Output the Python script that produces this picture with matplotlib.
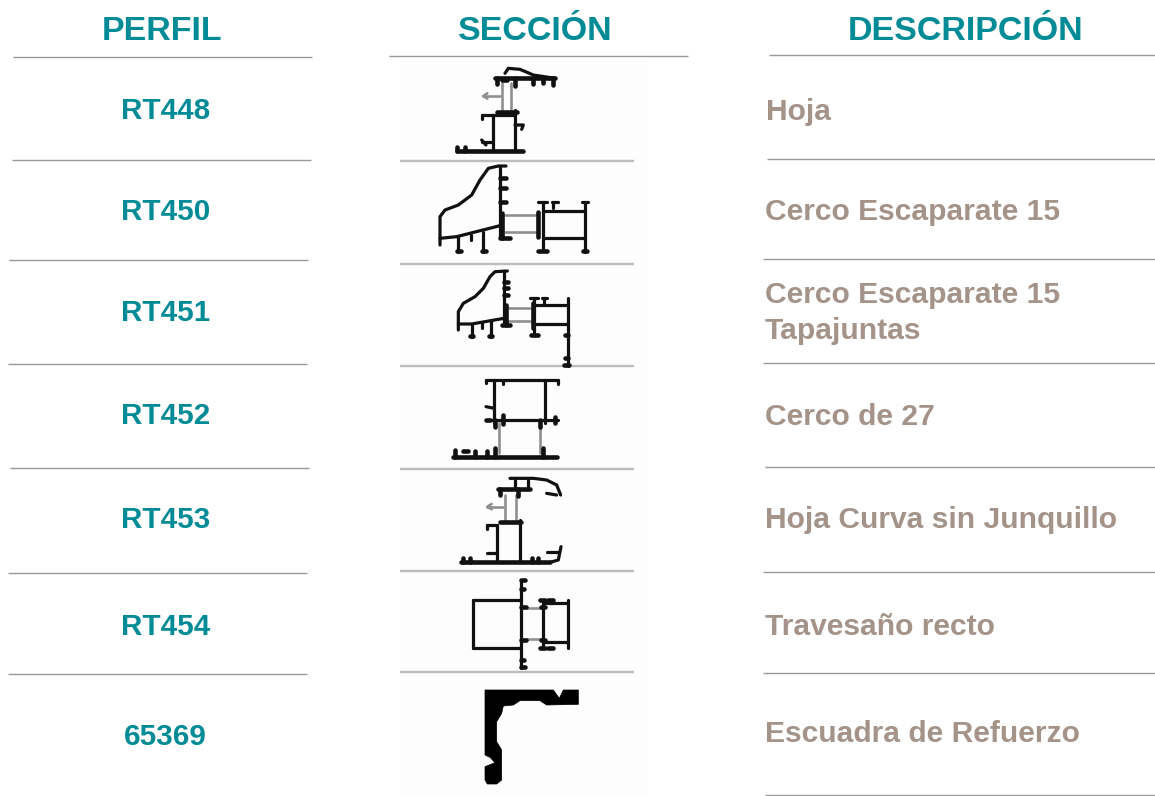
import matplotlib
matplotlib.use("Agg")
import matplotlib.pyplot as plt
from matplotlib.patches import Polygon, Rectangle

plt.rcParams['font.family'] = ['Liberation Sans', 'DejaVu Sans']

W, H = 1155, 796
TEAL = '#008B96'
TAUPE = '#A39389'
RULE = '#9A9A9A'
SOFT = '#BDBDBD'
INK = '#111111'
GLASS = '#8E8E8E'

headers = ['PERFIL', 'SECCIÓN', 'DESCRIPCIÓN']
header_x = [162, 535, 966]
codes = ['RT448', 'RT450', 'RT451', 'RT452', 'RT453', 'RT454', '65369']
code_y = [109, 210, 311, 414, 518, 625, 735]
descriptions = ['Hoja', 'Cerco Escaparate 15', 'Cerco Escaparate 15\nTapajuntas', 'Cerco de 27',
                'Hoja Curva sin Junquillo', 'Travesaño recto', 'Escuadra de Refuerzo']
desc_x = [766, 765, 765, 765, 765, 765, 765]
desc_y = [110, 210, 311, 415, 518, 625, 732]

left_rules = [(13, 312, 57), (12, 311, 160), (9, 308, 260), (8, 307, 364), (10, 309, 468), (8, 307, 573), (8, 307, 674)]
right_rules = [(769, 1155, 55), (767, 1155, 159), (763, 1155, 259), (763, 1155, 363), (765, 1155, 467),
               (763, 1155, 572), (763, 1155, 673), (765, 1155, 795)]
mid_rule = (389, 688, 56)
section_rules = [161, 264, 366, 469, 571, 672]

# Each drawing: origin of the crop, then thin lines, thick lines, grey lines (crop units are 1/3 px)
s1_thin = [[(315, 40), (325, 25), (360, 28), (400, 45), (465, 55)], [(280, 165), (345, 165)], [(245, 165), (280, 165)],
           [(245, 165), (245, 178)], [(278, 165), (278, 270)], [(345, 150), (345, 270)], [(345, 195), (370, 195), (365, 208)],
           [(245, 245), (275, 245)], [(245, 240), (258, 255)]]
s1_thick = [[(285, 55), (465, 55)], [(290, 55), (290, 72)], [(345, 55), (345, 78)], [(400, 55), (400, 72)], [(430, 55), (430, 70)],
            [(460, 55), (460, 74)], [(290, 155), (350, 155)], [(170, 272), (370, 272)], [(172, 262), (172, 272)], [(195, 262), (195, 272)],
            [(305, 60), (320, 60)]]
s1_grey = [[(305, 70), (305, 150)], [(332, 70), (332, 150)], [(250, 108), (300, 108)], [(262, 100), (250, 108), (262, 116)]]

s2_thin = [[(120, 555), (120, 470), (135, 450), (175, 435), (215, 405), (240, 360), (265, 325), (295, 318), (318, 318)],
           [(120, 535), (170, 530), (300, 497)], [(300, 318), (300, 535)], [(175, 530), (175, 575)], [(213, 525), (213, 540)],
           [(250, 515), (250, 575)], [(428, 425), (428, 570)], [(428, 452), (555, 452)], [(428, 535), (555, 535)], [(555, 425), (555, 575)],
           [(415, 425), (440, 425)], [(460, 425), (460, 445)], [(455, 425), (475, 425)], [(545, 425), (565, 425)]]
s2_thick = [[(300, 355), (318, 355)], [(300, 385), (318, 385)], [(300, 425), (318, 425)], [(307, 460), (307, 535)], [(300, 535), (330, 535)],
            [(415, 455), (415, 530)], [(415, 572), (440, 572)], [(170, 572), (182, 572)], [(245, 572), (257, 572)], [(548, 572), (560, 572)]]
s2_grey = [[(315, 465), (410, 465)], [(315, 517), (410, 517)]]

s3_thin = [[(175, 210), (175, 155), (190, 130), (225, 110), (250, 85), (270, 50), (285, 35), (322, 33)],
           [(175, 192), (215, 192), (312, 175)], [(312, 33), (312, 195)], [(215, 195), (215, 230)], [(272, 180), (272, 230)],
           [(245, 190), (245, 205)], [(403, 115), (403, 225)], [(403, 135), (505, 135)], [(403, 192), (505, 192)], [(505, 115), (505, 318)],
           [(390, 115), (415, 115)], [(432, 115), (432, 130)], [(425, 115), (440, 115)]]
s3_thick = [[(312, 65), (325, 65)], [(312, 85), (325, 85)], [(312, 105), (325, 105)], [(318, 135), (318, 195)], [(305, 195), (330, 195)],
            [(398, 130), (398, 205)], [(392, 225), (415, 225)], [(495, 225), (505, 225)], [(495, 295), (505, 295)], [(492, 316), (507, 316)],
            [(210, 228), (220, 228)], [(267, 228), (277, 228)]]
s3_grey = [[(325, 145), (390, 145)], [(325, 183), (390, 183)]]

s4_thin = [[(258, 360), (475, 360)], [(258, 360), (258, 370)], [(475, 360), (475, 372)], [(283, 360), (283, 490)], [(435, 360), (435, 490)],
           [(258, 480), (475, 480)], [(258, 440), (283, 445)], [(310, 360), (310, 372)]]
s4_thick = [[(310, 465), (310, 492)], [(258, 480), (270, 480)], [(465, 470), (465, 490)], [(160, 590), (470, 590)], [(165, 570), (165, 590)],
            [(190, 572), (205, 572)], [(225, 572), (225, 590)], [(260, 572), (260, 590)], [(285, 565), (285, 590)], [(430, 565), (430, 590)],
            [(285, 480), (285, 500)], [(420, 480), (420, 500)]]
s4_grey = [[(298, 490), (298, 580)], [(420, 490), (420, 580)]]

s5_thin = [[(330, 40), (400, 40), (440, 45), (470, 60), (482, 90)], [(440, 85), (470, 90)], [(345, 45), (345, 70)], [(385, 45), (385, 70)],
           [(290, 180), (290, 290)], [(360, 165), (360, 290)], [(260, 180), (290, 180)], [(260, 180), (260, 192)], [(260, 265), (290, 265)],
           [(450, 292), (475, 285), (483, 245)], [(440, 260), (475, 260)]]
s5_thick = [[(295, 72), (390, 72)], [(300, 72), (300, 90)], [(355, 72), (355, 92)], [(300, 170), (362, 170)], [(183, 292), (450, 292)],
            [(190, 280), (190, 292)], [(210, 280), (210, 292)], [(395, 278), (395, 292)], [(415, 278), (415, 292)]]
s5_grey = [[(315, 90), (315, 165)], [(348, 90), (348, 165)], [(262, 125), (310, 125)], [(275, 117), (262, 125), (275, 133)]]

s6_thin = [[(362, 345), (362, 610)], [(218, 405), (362, 405)], [(218, 548), (362, 548)], [(218, 405), (218, 548)], [(428, 405), (428, 548)],
           [(505, 405), (505, 550)], [(428, 415), (505, 415)], [(428, 532), (505, 532)]]
s6_thick = [[(362, 345), (375, 345)], [(362, 372), (372, 372)], [(362, 585), (372, 585)], [(362, 605), (375, 605)], [(362, 425), (378, 425)],
            [(362, 525), (378, 525)], [(420, 405), (436, 405)], [(445, 405), (458, 405)], [(420, 548), (436, 548)], [(445, 548), (458, 548)],
            [(422, 425), (435, 425)], [(422, 525), (435, 525)]]
s6_grey = [[(378, 428), (422, 428)], [(378, 522), (422, 522)]]

s7_shape = [(255, 60), (460, 60), (478, 85), (490, 60), (535, 60), (535, 103), (440, 105), (420, 92), (360, 92), (340, 105),
            (310, 108), (305, 130), (290, 155), (290, 215), (305, 240), (305, 330), (290, 342), (262, 342), (255, 330),
            (255, 290), (285, 278), (270, 262), (255, 255)]

drawings = [((400, 60), s1_thin, s1_thick, s1_grey), ((400, 60), s2_thin, s2_thick, s2_grey),
            ((400, 260), s3_thin, s3_thick, s3_grey), ((400, 260), s4_thin, s4_thick, s4_grey),
            ((400, 465), s5_thin, s5_thick, s5_grey), ((400, 465), s6_thin, s6_thick, s6_grey)]
shape_origin = (400, 670)

fig = plt.figure(figsize=(W / 100, H / 100), dpi=100)
ax = fig.add_axes([0, 0, 1, 1])
ax.set_xlim(0, W)
ax.set_ylim(H, 0)
ax.axis('off')


def px(w):
    return w * 0.72


def to_px(points, origin):
    return [origin[0] + p[0] / 3 for p in points], [origin[1] + p[1] / 3 for p in points]


ax.add_patch(Rectangle((400, 60), 248, 735, facecolor='#FDFDFD', edgecolor='none', zorder=0))

for x0, x1, y in left_rules + [mid_rule] + right_rules:
    ax.plot([x0, x1], [y, y], color=RULE, lw=px(1.4), solid_capstyle='butt', zorder=1)
for y in section_rules:
    ax.plot([400, 634], [y, y], color=SOFT, lw=px(2.4), solid_capstyle='butt', zorder=1)

for origin, thin, thick, grey in drawings:
    for group, color, width in ((grey, GLASS, 2.6), (thin, INK, 3.2), (thick, INK, 4.6)):
        for line in group:
            xs, ys = to_px(line, origin)
            ax.plot(xs, ys, color=color, lw=px(width), solid_capstyle='round', solid_joinstyle='round', zorder=2)

xs, ys = to_px(s7_shape, shape_origin)
ax.add_patch(Polygon(list(zip(xs, ys)), closed=True, facecolor='black', edgecolor='black', lw=0.5,
                     joinstyle='round', zorder=2))

for label, x in zip(headers, header_x):
    ax.text(x, 31, label, color=TEAL, fontsize=24.5, fontweight='bold', ha='center', va='center')
for label, y in zip(codes, code_y):
    ax.text(165.5, y + 2, label, color=TEAL, fontsize=21.3, fontweight='bold', ha='center', va='center')
for label, x, y in zip(descriptions, desc_x, desc_y):
    ax.text(x, y + 2, label, color=TAUPE, fontsize=21.6, fontweight='bold', ha='left', va='center', linespacing=1.38)

fig.savefig('out.png', dpi=100, facecolor='white')
